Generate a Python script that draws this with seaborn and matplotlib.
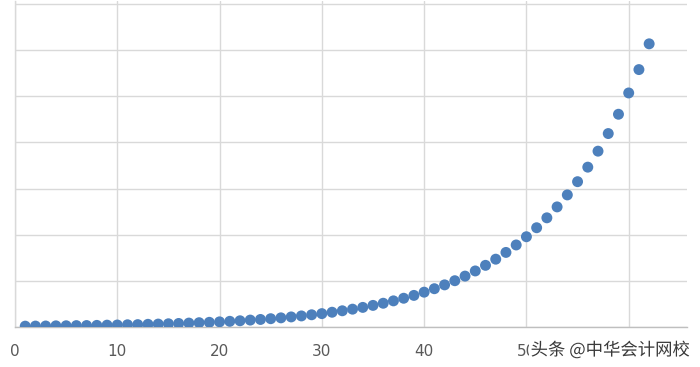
import matplotlib
matplotlib.use("Agg")
import matplotlib.pyplot as plt
import matplotlib.patheffects as pe
import seaborn as sns
import pandas as pd

# Data
x_values = list(range(1, 63))
y_values = [1.1, 1.2, 1.3, 1.5, 1.6, 1.8, 1.9, 2.1, 2.4, 2.6,
            2.9, 3.1, 3.5, 3.8, 4.2, 4.6, 5.1, 5.6, 6.1, 6.7,
            7.4, 8.1, 9.0, 9.8, 10.8, 11.9, 13.1, 14.4, 15.9, 17.4,
            19.2, 21.1, 23.2, 25.5, 28.1, 30.9, 34.0, 37.4, 41.1, 45.3,
            49.8, 54.8, 60.2, 66.2, 72.9, 80.2, 88.2, 97.0, 106.7, 117.4,
            129.1, 142.0, 156.2, 171.8, 189.0, 207.9, 228.7, 251.6, 276.7, 304.4,
            334.8, 368.3]
x_ticks = [0, 10, 20, 30, 40, 50, 60]
y_grid = [0, 60, 120, 180, 240, 300, 360, 420]
watermark = "头条 @中华会计网校"

df = pd.DataFrame({"x": x_values, "y": y_values})

sns.set_theme(style="white")
plt.rcParams['font.family'] = ['DejaVu Sans']

fig = plt.figure(figsize=(7.0, 3.67), dpi=100)
ax = fig.add_axes([15 / 700, 40 / 367, 672 / 700, 326 / 367])

sns.scatterplot(data=df, x="x", y="y", ax=ax, s=62, color="#4D80BC",
                edgecolor="none", zorder=3)

ax.set_xlim(0, 65.7)
ax.set_ylim(0, 424)
ax.set_xticks(x_ticks)
ax.set_yticks(y_grid)
ax.set_yticklabels([])
ax.set_xlabel("")
ax.set_ylabel("")
ax.grid(True, color="#D9D9D9", linewidth=1.0)
ax.tick_params(axis="x", length=0, pad=12, labelsize=11, labelcolor="#595959")
ax.tick_params(axis="y", length=0)
for side in ["top", "right"]:
    ax.spines[side].set_visible(False)
ax.spines["left"].set_color("#D9D9D9")
ax.spines["bottom"].set_color("#BFBFBF")
ax.spines["left"].set_linewidth(1.0)
ax.spines["bottom"].set_linewidth(1.0)

fig.text(690 / 700, 1 - 350 / 367, watermark, ha="right", va="center",
         fontsize=12.5, color="#3A3A3A", zorder=10,
         family=['Noto Sans CJK SC', 'DejaVu Sans'],
         bbox=dict(facecolor="white", edgecolor="none", pad=1.5),
         path_effects=[pe.withStroke(linewidth=2.5, foreground="white")])

fig.savefig("out.png", dpi=100)
